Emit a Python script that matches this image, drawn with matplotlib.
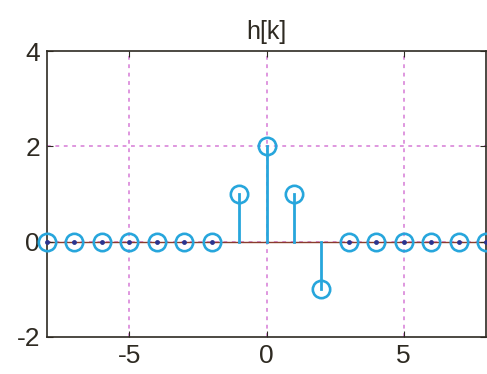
import numpy as np
import matplotlib
matplotlib.use("Agg")
import matplotlib.pyplot as plt

BLUE, NAVY, BASE, GRIDC, INK = "#27a6dc", "#2a3590", "#8a3c2c", "#d67ad6", "#2e2a22"

k = np.arange(-8, 9)
h = [0, 0, 0, 0, 0, 0, 0, 1, 2, 1, -1, 0, 0, 0, 0, 0, 0]
xticks = [-5, 0, 5]
yticks = [-2, 0, 2, 4]

plt.rcParams["font.family"] = ["Liberation Sans", "DejaVu Sans"]
plt.rcParams["axes.unicode_minus"] = False
fig = plt.figure(figsize=(4.87, 3.74), dpi=100)
ax = fig.add_axes([47 / 487, 1 - 337 / 374, 439 / 487, 286 / 374])

ax.set_xlim(-8, 8)
ax.set_ylim(-2, 4)
for x in xticks:
    ax.axvline(x, color=GRIDC, lw=1.1, ls=(0, (2.5, 3)), zorder=0)
for y in [0, 2]:
    ax.axhline(y, color=GRIDC, lw=1.1, ls=(0, (2.5, 3)), zorder=0)

ax.plot([-8, 8], [0, 0], color=BASE, lw=1.0, zorder=1)
hv = np.array(h)
for xi, yi in zip(k, hv):
    if yi != 0:
        ax.plot([xi, xi], [0, yi], color=BLUE, lw=2.0, zorder=2)
ax.plot(k, hv, "o", ms=12.5, mfc="none", mec=BLUE, mew=1.9, clip_on=False, zorder=3)
z = hv == 0
ax.plot(k[z], hv[z], "o", ms=3.5, color=NAVY, mec="none", clip_on=False, zorder=4)

ax.set_xticks(xticks)
ax.set_yticks(yticks)
ax.tick_params(direction="in", length=4, labelsize=19, colors=INK, pad=5, top=True, right=True)
for s in ax.spines.values():
    s.set_color(INK)
    s.set_linewidth(1.2)
ax.set_title("h[k]", fontsize=18, color=INK, pad=9)

fig.savefig("out.png", dpi=100)
